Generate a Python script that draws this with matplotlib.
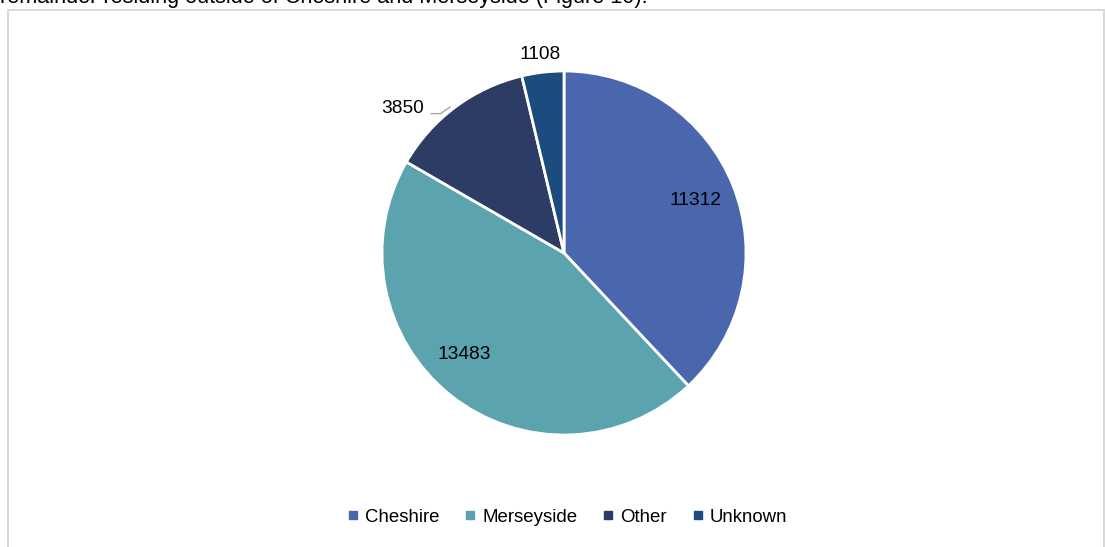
import numpy as np
import matplotlib
matplotlib.use("Agg")
import matplotlib.pyplot as plt
from matplotlib.lines import Line2D
from matplotlib.patches import Rectangle

plt.rcParams['font.family'] = ['Liberation Sans', 'DejaVu Sans']

# data
categories = ["Cheshire", "Merseyside", "Other", "Unknown"]
values = [11312, 13483, 3850, 1108]
colors = ["#4a66ac", "#5ba3ae", "#2d3c65", "#1c4b7e"]

W, H = 1105, 547
fig = plt.figure(figsize=(W / 100, H / 100), dpi=100)
ax = fig.add_axes([0, 0, 1, 1])

cx, cy, r = 564, H - 253, 182
wedges, _ = ax.pie(values, colors=colors, startangle=90, counterclock=False,
                   center=(cx, cy), radius=r, frame=True,
                   wedgeprops=dict(edgecolor='white', linewidth=2.0))
ax.set_xlim(0, W)
ax.set_ylim(0, H)
ax.set_aspect('equal')
ax.axis('off')

# label placement: (distance factor, angle offset in degrees)
label_pos = [(0.78, 0.3), (0.78, -6.0), (1.19, 11.5), (1.10, 0.2)]
for w, v, (f, da) in zip(wedges, values, label_pos):
    ang = np.deg2rad((w.theta1 + w.theta2) / 2 + da)
    x = cx + f * r * np.cos(ang)
    y = cy + f * r * np.sin(ang)
    ax.text(x, y, str(v), ha='center', va='center', fontsize=13.8, color='#000000')
    if v == 3850:
        ax.plot([x + 28, x + 38, x + 48], [y - 5, y - 5, y + 2],
                color='#a6a6a6', lw=1.0, solid_capstyle='butt')

# frame of the chart area
fig.patches.append(Rectangle((8 / W, -0.05), (1104 - 8) / W, 1.05 - 10 / H,
                             transform=fig.transFigure, fill=False,
                             edgecolor='#d9d9d9', linewidth=1.5))

# cut-off caption from the surrounding document
fig.text(0 / W, 1 - 3 / H, "remainder residing outside of Cheshire and Merseyside (Figure 10).",
         ha='left', va='baseline', fontsize=15.6, color='#000000')

handles = [Line2D([0], [0], marker='s', color='none', markerfacecolor=c,
                  markeredgecolor=c, markersize=5.5, label=n)
           for n, c in zip(categories, colors)]
fig.legend(handles=handles, loc='center', bbox_to_anchor=(567 / W, 1 - 517 / H),
           ncol=4, frameon=False, fontsize=13.4, handlelength=0.7,
           handletextpad=0.3, columnspacing=1.3)

plt.savefig("out.png", dpi=100)
